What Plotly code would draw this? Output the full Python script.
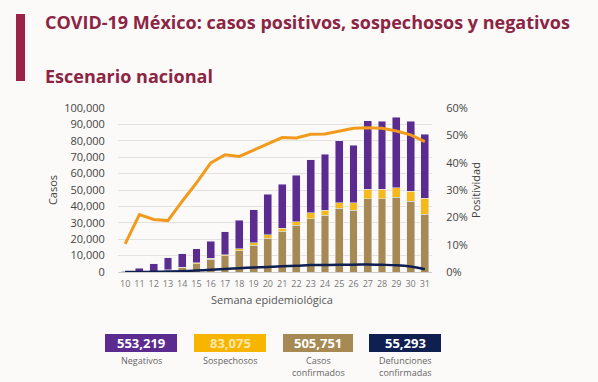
import plotly.graph_objects as go

weeks = [str(w) for w in range(10, 32)]
confirmados = [10, 100, 400, 1200, 2600, 4900, 7700, 9800, 13000, 16300, 20700,
               24800, 28500, 32500, 34600, 39000, 37600, 44700, 44700, 45700, 43100, 35200]
sospechosos = [20, 50, 200, 300, 400, 600, 800, 800, 1300, 1400, 2100,
               2000, 2000, 3500, 3000, 3300, 4500, 5700, 5700, 5800, 6100, 9900]
negativos = [300, 2250, 4500, 7300, 8200, 8800, 10200, 13800, 17200, 20300, 24600,
             26700, 28500, 32500, 34200, 37600, 35200, 41700, 41500, 43000, 42700, 38900]
defunciones = [0, 20, 80, 250, 500, 900, 1300, 1800, 2300, 2700, 3100,
               3500, 3800, 4200, 4300, 4400, 4400, 4600, 4400, 4100, 3300, 1700]
positividad = [0.103, 0.21, 0.192, 0.188, 0.259, 0.326, 0.399, 0.429, 0.423, 0.447, 0.471,
               0.492, 0.49, 0.504, 0.505, 0.516, 0.526, 0.528, 0.526, 0.516, 0.502, 0.477]

y_ticks = [0, 10000, 20000, 30000, 40000, 50000, 60000, 70000, 80000, 90000, 100000]
y2_ticks = [0, 0.1, 0.2, 0.3, 0.4, 0.5, 0.6]

summary_values = ["553,219", "83,075", "505,751", "55,293"]
summary_labels = ["Negativos", "Sospechosos", "Casos<br>confirmados", "Defunciones<br>confirmadas"]

C_BROWN = "#a68953"
C_YELLOW = "#f6b91a"
C_PURPLE = "#5c2b8f"
C_NAVY = "#0e1f50"
C_ORANGE = "#f29a1c"
C_MAROON = "#8c2444"

W, H = 598, 382
L, R, T, B = 118, 166, 108, 110
PW, PH = W - L - R, H - T - B


def px(x):
    return (x - L) / PW


def py(y):
    return (H - B - y) / PH


FONT = "Open Sans"

fig = go.Figure()
fig.add_trace(go.Bar(x=weeks, y=confirmados, name="Casos confirmados", marker_color=C_BROWN))
fig.add_trace(go.Bar(x=weeks, y=sospechosos, name="Sospechosos", marker_color=C_YELLOW))
fig.add_trace(go.Bar(x=weeks, y=negativos, name="Negativos", marker_color=C_PURPLE))
fig.add_trace(go.Scatter(x=weeks, y=defunciones, mode="lines", name="Defunciones",
                         line=dict(color=C_NAVY, width=2.5, shape="spline")))
fig.add_trace(go.Scatter(x=weeks, y=positividad, mode="lines", name="Positividad", yaxis="y2",
                         line=dict(color=C_ORANGE, width=3)))

shapes = [
    dict(type="rect", xref="paper", yref="paper", x0=px(16), x1=px(25), y0=py(81), y1=py(14),
         fillcolor="#9b2347", line=dict(width=0), layer="above"),
]
annotations = [
    dict(text="<b>COVID-19 México: casos positivos, sospechosos y negativos</b>", xref="paper", yref="paper",
         x=px(43), y=py(22), xanchor="left", yanchor="middle", showarrow=False,
         font=dict(family=FONT, size=18, color=C_MAROON)),
    dict(text="<b>Escenario nacional</b>", xref="paper", yref="paper",
         x=px(43), y=py(76), xanchor="left", yanchor="middle", showarrow=False,
         font=dict(family=FONT, size=18, color=C_MAROON)),
    dict(text="Semana epidemiológica", xref="paper", yref="paper",
         x=px(272), y=py(299), xanchor="center", yanchor="middle", showarrow=False,
         font=dict(family=FONT, size=11, color="#555555")),
]

box_x = [(105, 177), (194, 266), (283, 353), (369, 441)]
box_colors = [C_PURPLE, "#f7b500", C_BROWN, C_NAVY]
text_colors = ["#ffffff", "#fde8a8", "#ffffff", "#ffffff"]
for (x0, x1), col, tcol, val, lab in zip(box_x, box_colors, text_colors, summary_values, summary_labels):
    shapes.append(dict(type="rect", xref="paper", yref="paper", x0=px(x0), x1=px(x1),
                       y0=py(352), y1=py(334), fillcolor=col, line=dict(width=0), layer="above"))
    annotations.append(dict(text="<b>" + val + "</b>", xref="paper", yref="paper",
                            x=px((x0 + x1) / 2), y=py(343), xanchor="center", yanchor="middle",
                            showarrow=False, font=dict(family=FONT, size=13, color=tcol)))
    annotations.append(dict(text=lab, xref="paper", yref="paper",
                            x=px((x0 + x1) / 2), y=py(352), xanchor="center", yanchor="top",
                            showarrow=False, font=dict(family=FONT, size=9, color="#666666")))

fig.update_layout(
    width=W, height=H,
    margin=dict(l=L, r=R, t=T, b=B, pad=0),
    paper_bgcolor="#fbfaf8",
    plot_bgcolor="rgba(0,0,0,0)",
    barmode="stack",
    bargap=0.45,
    showlegend=False,
    font=dict(family=FONT, color="#444444"),
    xaxis=dict(type="category", tickfont=dict(size=9, color="#777777"), ticks="outside", ticklen=3,
               tickcolor="rgba(0,0,0,0)", showline=True, linecolor="#cccccc", linewidth=1,
               showgrid=False, range=[-0.5, 21.5]),
    yaxis=dict(range=[0, 100000], tickvals=y_ticks, tickformat=",", tickfont=dict(size=11, color="#444444"),
               ticks="outside", ticklen=10, tickcolor="rgba(0,0,0,0)", showgrid=True, gridcolor="#e4e2df",
               gridwidth=1, zeroline=False,
               title=dict(text="Casos", standoff=4, font=dict(size=11, color="#444444"))),
    yaxis2=dict(range=[0, 0.6], tickvals=y2_ticks, tickformat=".0%", overlaying="y", side="right",
                tickfont=dict(size=11, color="#444444"), ticks="outside", ticklen=11,
                tickcolor="rgba(0,0,0,0)", showgrid=False, zeroline=False,
                title=dict(text="Positividad", standoff=3, font=dict(size=11, color="#444444"))),
    shapes=shapes,
    annotations=annotations,
)

fig.write_html("out.html", config={"displayModeBar": False},
               post_script="document.body.style.margin='0';document.body.style.overflow='hidden';")
